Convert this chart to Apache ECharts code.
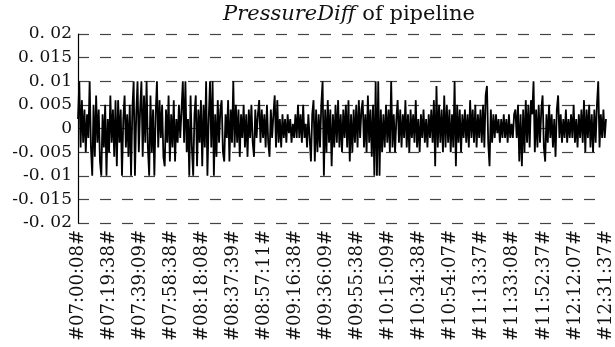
<!DOCTYPE html>
<html>
<head>
<meta charset="utf-8">
<script src="https://cdn.jsdelivr.net/npm/echarts@6/dist/echarts.min.js"></script>
<style>html,body{margin:0;padding:0;background:#fff}#c{width:615px;height:347px}</style>
</head>
<body>
<div id="c"></div>
<script>
// tick labels on the x axis (one every 24 samples)
var tickLabels = ['#07:00:08#','#07:19:38#','#07:39:09#','#07:58:38#','#08:18:08#','#08:37:39#','#08:57:11#','#09:16:38#','#09:36:09#','#09:55:38#','#10:15:09#','#10:34:38#','#10:54:07#','#11:13:37#','#11:33:08#','#11:52:37#','#12:12:07#','#12:31:37#'];
var samplesPerTick = 24;
// pressure difference values
var pressureDiff = [
.002,.01,-.004,.006,-.003,.004,-.005,.003,-.002,.01,
-.004,-.01,.005,-.006,.007,-.003,.004,-.007,-.01,.003,
-.004,.005,-.01,.002,-.005,.007,-.003,.004,-.006,.006,
-.008,.006,-.003,.004,-.01,.002,.007,-.004,.003,-.006,
.005,-.01,.004,.01,-.01,.003,.01,-.005,.004,.01,
-.006,.007,-.003,.01,-.004,-.01,.007,-.005,.004,-.01,
.003,.01,-.004,.006,-.002,.005,-.006,-.008,.004,-.003,
.007,-.007,.003,-.004,.006,-.007,.002,-.003,.005,-.002,
.004,.01,-.003,.01,-.005,.002,-.01,.007,-.004,-.01,
.003,.007,-.008,.004,-.003,.006,-.008,.005,-.004,.01,
-.01,.002,.01,-.004,.01,-.01,.003,-.006,.006,-.003,
.004,.006,-.005,-.007,.003,-.002,.006,-.007,.004,-.003,
.01,-.004,.005,-.003,.004,-.006,.003,-.002,.005,-.004,
.003,-.006,.004,-.002,.005,-.003,-.006,.004,-.002,.003,
.006,-.003,.004,-.002,.003,-.004,.005,-.003,-.006,.004,
-.002,.003,.007,-.004,.006,-.003,.002,-.004,.003,-.002,
.002,-.003,.003,-.001,.002,-.003,.001,-.002,.003,-.002,
.005,-.002,.003,-.003,.005,-.002,.001,-.004,.003,-.002,
-.007,.003,.006,-.007,.004,-.005,.003,-.004,.005,.01,
-.01,.004,-.005,.006,-.003,.004,-.008,.003,-.004,.005,
-.003,.006,-.004,.003,-.005,.004,-.002,.005,-.004,.006,
-.007,.003,-.005,.004,-.003,.005,-.004,.006,-.002,.004,
.006,-.004,.003,-.005,.007,-.003,.004,-.006,.005,-.01,
.01,-.01,.01,-.01,.004,-.005,.003,-.004,.005,-.003,
.004,-.005,.01,-.004,.003,-.005,.002,.006,-.003,.004,
-.004,.003,-.002,.006,-.004,.003,-.005,.004,-.002,.003,
-.003,.006,-.004,.002,-.005,.003,-.002,.004,-.003,.002,
-.004,.003,-.002,.004,-.003,.006,-.008,.009,-.004,.005,
-.003,.004,-.005,.007,-.004,.005,-.003,.004,-.005,.003,
-.004,.01,-.008,.005,-.003,.004,-.005,.003,-.002,.004,
-.003,.003,-.004,.006,-.002,.004,-.003,.005,-.004,.003,
-.002,.004,-.003,.005,-.004,.007,.009,-.003,-.008,.004,
-.003,.003,-.002,.003,-.001,.002,-.003,.002,-.002,.003,
-.002,.002,-.003,.003,-.002,.001,-.002,.003,.004,-.002,
.005,-.007,.003,-.008,.004,-.005,.006,-.003,.005,-.004,
.006,.003,.01,-.005,.004,-.004,.005,-.003,.004,.007,
-.004,-.007,.003,-.003,.005,-.002,.003,-.004,.002,-.006,
.004,.007,-.002,.003,-.003,.002,-.002,.004,-.003,.002,
-.002,.003,-.002,.005,-.003,.002,-.004,.003,-.002,.004,
-.003,.006,-.005,.004,-.002,.005,-.004,.003,-.005,.004,
-.003,.005,.01,-.004,.003,-.002,.004,-.002,.002
];
var yMin = -0.02, yMax = 0.02, yStep = 0.005;

var seriesData = pressureDiff.map(function (v, i) { return [i, v]; });
var FONT = 'DejaVu Serif';
var chart = echarts.init(document.getElementById('c'), null, {renderer: 'canvas'});
chart.setOption({
  animation: false,
  backgroundColor: '#fff',
  title: {
    text: '{it|PressureDiff} of pipeline',
    left: 344, top: -1, textAlign: 'center',
    textStyle: {
      fontFamily: FONT, fontSize: 21, fontWeight: 'normal', color: '#111',
      rich: { it: { fontFamily: FONT, fontSize: 21, fontStyle: 'italic', color: '#111' } }
    }
  },
  grid: { left: 78, right: 5, top: 34, bottom: 124, containLabel: false },
  xAxis: {
    type: 'value', min: 0, max: pressureDiff.length - 1, interval: samplesPerTick,
    axisLine: { show: false }, axisTick: { show: false }, splitLine: { show: false },
    axisLabel: {
      rotate: 90, margin: 7, color: '#111', fontFamily: FONT, fontSize: 18,
      showMaxLabel: true,
      formatter: function (v) { var k = Math.round(v / samplesPerTick); return tickLabels[k] || ''; }
    }
  },
  yAxis: {
    type: 'value', min: yMin, max: yMax, interval: yStep,
    axisLine: { show: true, lineStyle: { color: '#000', width: 1.2 } },
    axisTick: { show: false },
    splitLine: { show: true, lineStyle: { color: '#444', width: 1.2, type: [11, 11] } },
    axisLabel: {
      margin: 6, color: '#111', fontFamily: FONT, fontSize: 17,
      formatter: function (v) {
        var s = String(+v.toFixed(3));
        return s.replace('.', '. ');
      }
    }
  },
  series: [{
    type: 'line', data: seriesData, step: 'end', symbol: 'none',
    lineStyle: { color: '#000', width: 1.8 }, z: 3
  }]
});
</script>
</body>
</html>
